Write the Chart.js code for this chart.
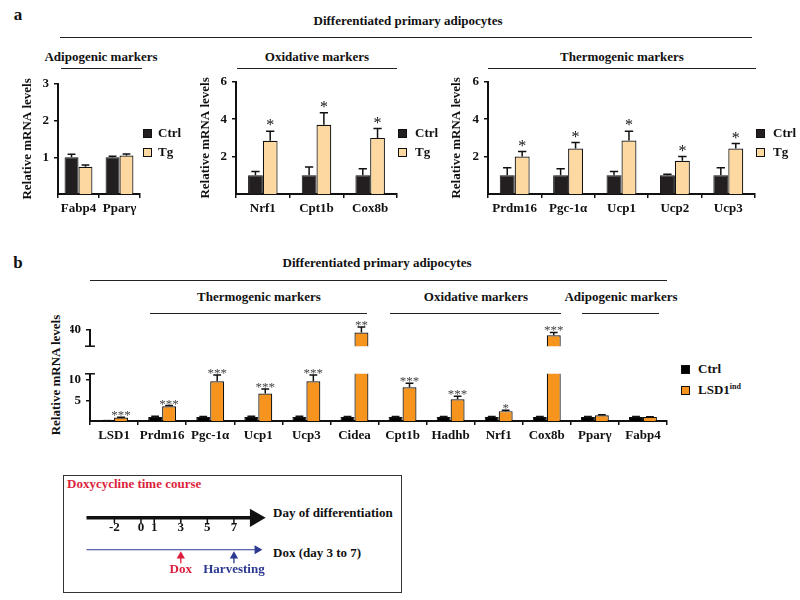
<!DOCTYPE html>
<html>
<head>
<meta charset="utf-8">
<script src="https://cdn.jsdelivr.net/npm/chart.js@4.4.0/dist/chart.umd.min.js"></script>
<style>
body { margin: 0; width: 800px; height: 600px; background: #fff; position: relative; overflow: hidden;
       font-family: "Liberation Serif", "Times New Roman", serif; font-weight: bold; font-size: 13px; color: #111; }
.t { position: absolute; white-space: nowrap; transform: translate(-50%, -50%); }
.l { position: absolute; white-space: nowrap; transform: translateY(-50%); }
.hr { position: absolute; height: 0; border-top: 1.5px solid #222; }
.sq { position: absolute; width: 9px; height: 9px; box-sizing: border-box; border: 1px solid #111; }
canvas { position: absolute; }
sup { font-size: 8px; }
</style>
</head>
<body>
<!-- panel a headings -->
<div class="t" style="left:18px;top:15px;font-size:17px">a</div>
<div class="t" style="left:408px;top:21px">Differentiated primary adipocytes</div>
<div class="hr" style="left:60px;top:37px;width:692px"></div>
<div class="t" style="left:101px;top:57px">Adipogenic markers</div>
<div class="hr" style="left:61px;top:68px;width:81px"></div>
<div class="t" style="left:317px;top:57px">Oxidative markers</div>
<div class="hr" style="left:237px;top:68px;width:160px"></div>
<div class="t" style="left:622px;top:57px">Thermogenic markers</div>
<div class="hr" style="left:488px;top:68px;width:268px"></div>

<canvas id="adipoChart"></canvas>
<canvas id="oxChart"></canvas>
<canvas id="thermoChart"></canvas>

<div class="sq" style="left:143px;top:129px;background:#231f20"></div><div class="l" style="left:158px;top:133px">Ctrl</div>
<div class="sq" style="left:143px;top:148px;background:#fdd8a0"></div><div class="l" style="left:158px;top:152px">Tg</div>
<div class="sq" style="left:398px;top:129px;background:#231f20"></div><div class="l" style="left:415px;top:133px">Ctrl</div>
<div class="sq" style="left:398px;top:148px;background:#fdd8a0"></div><div class="l" style="left:415px;top:152px">Tg</div>
<div class="sq" style="left:756px;top:129px;background:#231f20"></div><div class="l" style="left:773px;top:133px">Ctrl</div>
<div class="sq" style="left:756px;top:148px;background:#fdd8a0"></div><div class="l" style="left:773px;top:152px">Tg</div>

<!-- panel b headings -->
<div class="t" style="left:18px;top:263px;font-size:17px">b</div>
<div class="t" style="left:377px;top:263px">Differentiated primary adipocytes</div>
<div class="hr" style="left:90px;top:280px;width:577px"></div>
<div class="t" style="left:259px;top:297px">Thermogenic markers</div>
<div class="hr" style="left:150px;top:313px;width:217px"></div>
<div class="t" style="left:476px;top:297px">Oxidative markers</div>
<div class="hr" style="left:390px;top:313px;width:171px"></div>
<div class="t" style="left:621px;top:297px">Adipogenic markers</div>
<div class="hr" style="left:582px;top:313px;width:77px"></div>
<div class="t" style="left:56px;top:375px;transform:translate(-50%,-50%) rotate(-90deg)">Relative mRNA levels</div>

<canvas id="bUpper"></canvas>
<canvas id="bLower"></canvas>

<div class="sq" style="left:681px;top:365px;background:#000"></div><div class="l" style="left:698px;top:369px">Ctrl</div>
<div class="sq" style="left:681px;top:386px;background:#f7941d"></div><div class="l" style="left:698px;top:390px">LSD1<sup>ind</sup></div>

<!-- time course box -->
<div style="position:absolute;left:63px;top:475px;width:337px;height:116px;border:1.5px solid #333"></div>
<div class="l" style="left:67px;top:484px;color:#dc1f3c">Doxycycline time course</div>
<div class="l" style="left:273px;top:513px">Day of differentiation</div>
<div class="l" style="left:273px;top:553px">Dox (day 3 to 7)</div>
<canvas id="timeline"></canvas>

<script>
const FONT = '"Liberation Serif", "Times New Roman", serif';
const CTRL_A = '#231f20';
const TG_A = '#fdd8a0';
const IND_B = '#f7941d';
const RED = '#dc1f3c';
const BLUE = '#2b3990';

// panel a: adipogenic
const adipoGenes = ['Fabp4', 'Pparγ'];
const adipoCtrl = [1.0, 1.0];
const adipoCtrlErr = [1.08, 1.03];
const adipoTg = [0.74, 1.05];
const adipoTgErr = [0.79, 1.09];
const adipoStars = ['', ''];

// panel a: oxidative
const oxGenes = ['Nrf1', 'Cpt1b', 'Cox8b'];
const oxCtrl = [1.0, 1.0, 1.0];
const oxCtrlErr = [1.2, 1.45, 1.35];
const oxTg = [2.85, 3.7, 3.0];
const oxTgErr = [3.35, 4.35, 3.5];
const oxStars = ['*', '*', '*'];

// panel a: thermogenic
const thermoGenes = ['Prdm16', 'Pgc-1α', 'Ucp1', 'Ucp2', 'Ucp3'];
const thermoCtrl = [1.0, 1.0, 1.0, 1.0, 1.0];
const thermoCtrlErr = [1.4, 1.35, 1.2, 1.05, 1.4];
const thermoTg = [2.0, 2.43, 2.86, 1.78, 2.43];
const thermoTgErr = [2.27, 2.75, 3.35, 2.0, 2.7];
const thermoStars = ['*', '*', '*', '*', '*'];

// panel b
const bGenes = ['LSD1', 'Prdm16', 'Pgc-1α', 'Ucp1', 'Ucp3', 'Cidea', 'Cpt1b', 'Hadhb', 'Nrf1', 'Cox8b', 'Pparγ', 'Fabp4'];
const bCtrl = [0.1, 1, 1, 1, 1, 1, 1, 1, 1, 1, 1, 1];
const bCtrlErr = [0.1, 1.15, 1.1, 1.15, 1.15, 1.1, 1.1, 1.1, 1.1, 1.1, 1.1, 1.1];
const bInd = [0.85, 3.6, 9.7, 6.7, 9.7, 38.5, 8.2, 5.3, 2.4, 36.7, 1.4, 1.0];
const bIndErr = [0.9, 3.75, 11.2, 7.8, 11.2, 41.9, 9.2, 6.0, 2.6, 38.5, 1.55, 1.05];
const bStars = ['***', '***', '***', '***', '***', '**', '***', '***', '*', '***', '', ''];

// time course
const days = [-2, 0, 1, 3, 5, 7];
const dayRange = [-4.1, 8.6];
const doxRange = [-4.1, 8.75];
const markerDays = [3, 7];
const markerLabels = ['Dox', 'Harvesting'];

const errorBars = {
    id: 'errorBars',
    afterDatasetsDraw(chart, args, opts) {
        const ctx = chart.ctx;
        const ys = chart.scales.y;
        chart.data.datasets.forEach((ds, di) => {
            chart.getDatasetMeta(di).data.forEach((bar, i) => {
                const v = ds.data[i];
                if (v < ys.min || v > ys.max) return;
                const top = ys.getPixelForValue(ds.errTop[i]);
                const half = bar.width * 0.28;
                ctx.save();
                ctx.strokeStyle = '#111';
                ctx.lineWidth = 1.5;
                ctx.beginPath();
                ctx.moveTo(bar.x, bar.y);
                ctx.lineTo(bar.x, top);
                ctx.moveTo(bar.x - half, top);
                ctx.lineTo(bar.x + half, top);
                ctx.stroke();
                const s = ds.stars && ds.stars[i];
                if (s) {
                    ctx.fillStyle = opts.starColor || '#111';
                    ctx.font = opts.starSize + 'px ' + FONT;
                    ctx.textAlign = 'center';
                    ctx.textBaseline = 'alphabetic';
                    ctx.fillText(s, bar.x, top + opts.starGap);
                }
                ctx.restore();
            });
        });
    }
};

const axisBreak = {
    id: 'axisBreak',
    afterDraw(chart, args, opts) {
        if (!opts.edge) return;
        const { ctx, chartArea } = chart;
        const y = opts.edge === 'top' ? chartArea.top : chartArea.bottom;
        ctx.save();
        ctx.strokeStyle = '#111';
        ctx.lineWidth = 1.5;
        ctx.beginPath();
        ctx.moveTo(chartArea.left - 5, y);
        ctx.lineTo(chartArea.left + 5, y);
        ctx.stroke();
        ctx.restore();
    }
};

function pairSets(ctrl, ctrlErr, other, otherErr, stars, colors, pct) {
    return [
        { label: 'Ctrl', data: ctrl, errTop: ctrlErr, backgroundColor: colors[0], borderColor: '#111',
          borderWidth: 1, categoryPercentage: pct, barPercentage: 1 },
        { label: colors[2], data: other, errTop: otherErr, stars: stars, backgroundColor: colors[1], borderColor: '#111',
          borderWidth: 1.2, categoryPercentage: pct, barPercentage: 1 },
    ];
}

function buildBarChart(id, g, labels, datasets, yOpt) {
    const el = document.getElementById(id);
    const w = g.r - g.l + g.yW + g.padR;
    const h = g.b - g.t + g.padT + g.xH + g.padB;
    el.width = w;
    el.height = h;
    el.style.left = (g.l - g.yW) + 'px';
    el.style.top = (g.t - g.padT) + 'px';
    const tickFont = { family: FONT, size: 13, weight: 'bold' };
    return new Chart(el, {
        type: 'bar',
        data: { labels: labels, datasets: datasets },
        options: {
            responsive: false,
            animation: false,
            layout: { padding: { left: 0, top: g.padT, right: g.padR, bottom: g.padB } },
            plugins: {
                legend: { display: false },
                tooltip: { enabled: false },
                errorBars: { starSize: g.starSize, starGap: g.starGap, starColor: g.starColor },
                axisBreak: { edge: g.brk },
            },
            scales: {
                x: {
                    display: g.showX,
                    grid: { drawOnChartArea: false, offset: true, tickLength: 4, color: '#111', lineWidth: 1.5 },
                    border: { color: '#111', width: 2 },
                    ticks: { color: '#111', font: tickFont, padding: 3, maxRotation: 0, autoSkip: false },
                    afterFit: s => { s.height = g.xH; },
                },
                y: {
                    min: yOpt.min,
                    max: yOpt.max,
                    afterBuildTicks: s => { s.ticks = yOpt.ticks.map(v => ({ value: v })); },
                    grid: { drawOnChartArea: false, tickLength: 4, color: '#111', lineWidth: 1.5 },
                    border: { color: '#111', width: 2 },
                    ticks: { color: '#111', font: tickFont, padding: 5 },
                    title: { display: !!g.title, text: 'Relative mRNA levels', color: '#111',
                             font: tickFont, padding: { top: g.titlePad || 0, bottom: 0 } },
                    afterFit: s => { s.width = g.yW; },
                },
            },
        },
        plugins: [errorBars, axisBreak],
    });
}

const aGeom = { yW: 58, padT: 12, padR: 4, xH: 28, padB: 4, showX: true, title: true, titlePad: 20,
                starSize: 16, starGap: -1 };
const aColors = [CTRL_A, TG_A, 'Tg'];

buildBarChart('adipoChart', Object.assign({}, aGeom, { l: 58, t: 83, r: 140, b: 194 }), adipoGenes,
    pairSets(adipoCtrl, adipoCtrlErr, adipoTg, adipoTgErr, adipoStars, aColors, 0.68),
    { min: 0, max: 3, ticks: [1, 2, 3] });

buildBarChart('oxChart', Object.assign({}, aGeom, { l: 236, t: 81, r: 397, b: 194 }), oxGenes,
    pairSets(oxCtrl, oxCtrlErr, oxTg, oxTgErr, oxStars, aColors, 0.55),
    { min: 0, max: 6, ticks: [2, 4, 6] });

buildBarChart('thermoChart', Object.assign({}, aGeom, { l: 488, t: 81, r: 755, b: 194, titlePad: 19 }), thermoGenes,
    pairSets(thermoCtrl, thermoCtrlErr, thermoTg, thermoTgErr, thermoStars, aColors, 0.56),
    { min: 0, max: 6, ticks: [2, 4, 6] });

const bColors = ['#000', IND_B, 'LSD1ind'];
const bGeom = { yW: 20, padR: 4, starSize: 13, starGap: 2, starColor: '#444', title: false };

buildBarChart('bUpper', Object.assign({}, bGeom, { l: 90, t: 330, r: 667, b: 357, padT: 24, xH: 0, padB: 2,
    showX: false, brk: 'bottom' }), bGenes,
    pairSets(bCtrl, bCtrlErr, bInd, bIndErr, bStars, bColors, 0.58),
    { min: 30, max: 40, ticks: [40] });

buildBarChart('bLower', Object.assign({}, bGeom, { l: 90, t: 365, r: 667, b: 421, padT: 4, xH: 26, padB: 4,
    showX: true, brk: 'top' }), bGenes,
    pairSets(bCtrl, bCtrlErr, bInd, bIndErr, bStars, bColors, 0.58),
    { min: 0, max: 11.5, ticks: [5, 10] });

// time course diagram
const markerText = {
    id: 'markerText',
    afterDraw(chart) {
        const { ctx, scales } = chart;
        ctx.save();
        ctx.font = 'bold 13px ' + FONT;
        ctx.textAlign = 'center';
        ctx.textBaseline = 'middle';
        markerDays.forEach((d, i) => {
            ctx.fillStyle = i === 0 ? RED : BLUE;
            ctx.fillText(markerLabels[i], scales.x.getPixelForValue(d), scales.y.getPixelForValue(-0.63));
        });
        ctx.restore();
    }
};

const tl = document.getElementById('timeline');
tl.width = 195;
tl.height = 104;
tl.style.left = '76px';
tl.style.top = '485px';

function arrowSet(day, color) {
    return { data: [{ x: day, y: -0.42 }, { x: day, y: -0.2 }], borderColor: color, borderWidth: 1.3,
             pointStyle: 'triangle', pointRotation: 0, pointRadius: [0, 3.5],
             pointBackgroundColor: color, pointBorderColor: color, clip: false };
}

new Chart(tl, {
    type: 'line',
    data: {
        datasets: [
            { data: dayRange.map(x => ({ x: x, y: 1 })), borderColor: '#111', borderWidth: 3.5,
              pointStyle: 'triangle', pointRotation: 90, pointRadius: [0, 7],
              pointBackgroundColor: '#111', pointBorderColor: '#111', clip: false },
            { data: days.map(x => ({ x: x, y: 0.93 })), showLine: false, pointStyle: 'line',
              pointRotation: 90, pointRadius: 3, pointBorderWidth: 1.5, borderColor: '#111',
              pointBorderColor: '#111', clip: false },
            { data: doxRange.map(x => ({ x: x, y: 0 })), borderColor: BLUE, borderWidth: 1.2,
              pointStyle: 'triangle', pointRotation: 90, pointRadius: [0, 4],
              pointBackgroundColor: BLUE, pointBorderColor: BLUE, clip: false },
            arrowSet(markerDays[0], RED),
            arrowSet(markerDays[1], BLUE),
        ],
    },
    options: {
        responsive: false,
        animation: false,
        layout: { padding: { left: 6, right: 6, top: 0, bottom: 0 } },
        plugins: { legend: { display: false }, tooltip: { enabled: false } },
        scales: {
            x: {
                type: 'linear',
                min: -4.1,
                max: 9,
                position: { y: 1.075 },
                afterBuildTicks: s => { s.ticks = days.map(v => ({ value: v })); },
                grid: { drawOnChartArea: false, drawTicks: false },
                border: { display: false },
                ticks: { color: '#111', font: { family: FONT, size: 13, weight: 'bold' }, padding: 4 },
            },
            y: { display: false, min: -0.9, max: 1.7 },
        },
    },
    plugins: [markerText],
});
</script>
</body>
</html>
